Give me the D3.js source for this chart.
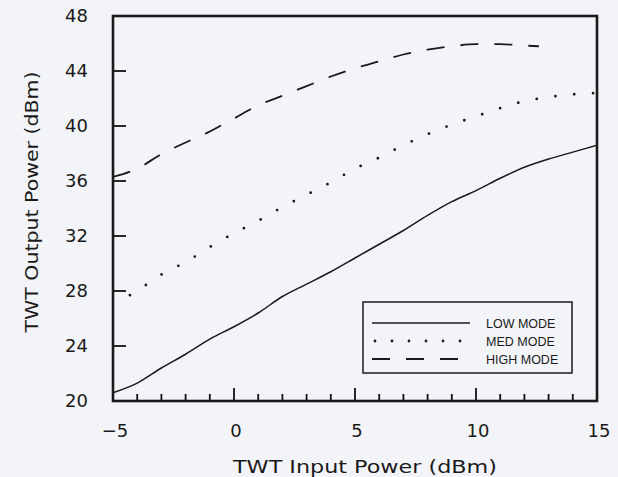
<!DOCTYPE html>
<html>
<head>
<meta charset="utf-8">
<script src="https://cdn.jsdelivr.net/npm/d3@7"></script>
<style>
  body { margin: 0; background: #f3f4f7; }
  svg { display: block; }
  text { fill: #1a1a1a; }
</style>
</head>
<body>
<div id="chart"></div>
<script>
// values (x: input dBm, y: output dBm)
var lowX  = [-5, -4, -3, -2, -1, 0, 1, 2, 3, 4, 5, 6, 7, 8, 9, 10, 11, 12, 13, 14, 15];
var lowY  = [20.6, 21.3, 22.4, 23.4, 24.5, 25.4, 26.4, 27.6, 28.5, 29.4, 30.4, 31.4, 32.4, 33.5, 34.5, 35.3, 36.2, 37.0, 37.6, 38.1, 38.6];
var medX  = [-4.3, -3.5, -3, -2, -1, 0, 1, 2, 3, 4, 5, 6, 7, 8, 9, 10, 11, 12, 13, 14, 15];
var medY  = [27.7, 28.6, 29.2, 30.1, 31.2, 32.2, 33.1, 34.1, 35.0, 35.9, 36.9, 37.7, 38.6, 39.4, 40.1, 40.7, 41.3, 41.8, 42.1, 42.3, 42.4];
var highX = [-5, -4, -3, -2, -1, 0, 1, 2, 3, 4, 5, 6, 7, 8, 9, 10, 11, 12, 12.6];
var highY = [36.3, 36.9, 37.95, 38.8, 39.6, 40.55, 41.5, 42.2, 42.9, 43.6, 44.2, 44.7, 45.2, 45.55, 45.8, 45.95, 45.95, 45.85, 45.8];

var xTicks = [-5, 0, 5, 10, 15];
var xMinor = [-4, -3, -2, -1, 0, 1, 2, 3, 4, 5, 6, 7, 8, 9, 10, 11, 12, 13, 14];
var yTicks = [20, 24, 28, 32, 36, 40, 44, 48];
var legendNames = ["LOW MODE", "MED MODE", "HIGH MODE"];

var W = 618, H = 477;
var margin = {top: 16, right: 21, bottom: 76, left: 113};
var width = W - margin.left - margin.right,
    height = H - margin.top - margin.bottom;

var svg = d3.select("#chart").append("svg")
  .attr("width", W).attr("height", H);

var g = svg.append("g")
  .attr("transform", "translate(" + margin.left + "," + margin.top + ")");

var x = d3.scaleLinear().domain([-5, 15]).range([0, width]);
var y = d3.scaleLinear().domain([20, 48]).range([height, 0]);

// x axis: tick at every dBm, longer at the labelled ones
g.selectAll(".xtick")
  .data(xMinor)
  .enter().append("line")
  .attr("class", "xtick")
  .attr("x1", d => x(d)).attr("x2", d => x(d))
  .attr("y1", height).attr("y2", d => height - (d % 5 == 0 ? 13 : 7))
  .style("stroke", "#111").style("stroke-width", "1.8px");

g.selectAll(".xlab")
  .data(xTicks)
  .enter().append("text")
  .attr("class", "xlab")
  .attr("x", d => x(d) + 2)
  .attr("y", height + 36)
  .attr("text-anchor", "middle")
  .style("font-family", "DejaVu Sans")
  .style("font-size", "18px")
  .text(d => d < 0 ? "\u2212" + Math.abs(d) : d);

// y axis: inward ticks at labels only
g.selectAll(".ytick")
  .data(yTicks.slice(1, -1))
  .enter().append("line")
  .attr("class", "ytick")
  .attr("x1", 0).attr("x2", 13)
  .attr("y1", d => y(d)).attr("y2", d => y(d))
  .style("stroke", "#111").style("stroke-width", "1.8px");

g.selectAll(".ylab")
  .data(yTicks)
  .enter().append("text")
  .attr("class", "ylab")
  .attr("x", -25)
  .attr("y", d => y(d) + 6)
  .attr("text-anchor", "end")
  .style("font-family", "DejaVu Sans")
  .style("font-size", "18px")
  .text(d => d);

// curves
var line = d3.line()
  .x(d => x(d[0]))
  .y(d => y(d[1]))
  .curve(d3.curveMonotoneX);

g.append("path")
  .datum(d3.zip(lowX, lowY))
  .attr("d", line)
  .attr("fill", "none").attr("stroke", "#1a1a1a").attr("stroke-width", 1.5);

g.append("path")
  .datum(d3.zip(medX, medY))
  .attr("d", line)
  .attr("fill", "none").attr("stroke", "#1a1a1a").attr("stroke-width", 2.8)
  .attr("stroke-linecap", "round")
  .attr("stroke-dasharray", "0 18.9");

g.append("path")
  .datum(d3.zip(highX, highY))
  .attr("d", line)
  .attr("fill", "none").attr("stroke", "#1a1a1a").attr("stroke-width", 1.8)
  .attr("stroke-dasharray", "18 16");

// frame
g.append("rect")
  .attr("x", 0).attr("y", 0)
  .attr("width", width).attr("height", height)
  .attr("fill", "none").attr("stroke", "#1a1a1a").attr("stroke-width", 2.6);

// legend
var leg = g.append("g").attr("transform", "translate(" + (363 - margin.left) + "," + (302 - margin.top) + ")");
leg.append("rect")
  .attr("width", 209).attr("height", 71)
  .attr("fill", "#f3f4f7").attr("stroke", "#1a1a1a").attr("stroke-width", 1.5);

var legStyles = [
  {dash: null, w: 1.5, cap: "butt", x2: 107},
  {dash: "0 17", w: 2.8, cap: "round", x2: 98},
  {dash: "18 16", w: 1.8, cap: "butt", x2: 96}
];
legendNames.forEach(function(name, i) {
  var ly = 21 + i * 18;
  var s = legStyles[i];
  leg.append("line")
    .attr("x1", i == 1 ? 12 : 9).attr("x2", s.x2)
    .attr("y1", ly).attr("y2", ly)
    .attr("stroke", "#1a1a1a").attr("stroke-width", s.w)
    .attr("stroke-linecap", s.cap)
    .attr("stroke-dasharray", s.dash);
  leg.append("text")
    .attr("x", 123).attr("y", ly + 5)
    .style("font-family", "Liberation Sans")
    .style("font-size", "12.5px")
    .text(name);
});

// axis titles
svg.append("text")
  .attr("x", 365).attr("y", 473)
  .attr("text-anchor", "middle")
  .attr("textLength", 264)
  .attr("lengthAdjust", "spacingAndGlyphs")
  .style("font-family", "DejaVu Sans")
  .style("font-size", "18px")
  .text("TWT Input Power (dBm)");

svg.append("text")
  .attr("transform", "translate(38,202) rotate(-90)")
  .attr("text-anchor", "middle")
  .attr("textLength", 261)
  .attr("lengthAdjust", "spacingAndGlyphs")
  .style("font-family", "DejaVu Sans")
  .style("font-size", "18px")
  .text("TWT Output Power (dBm)");
</script>
</body>
</html>
